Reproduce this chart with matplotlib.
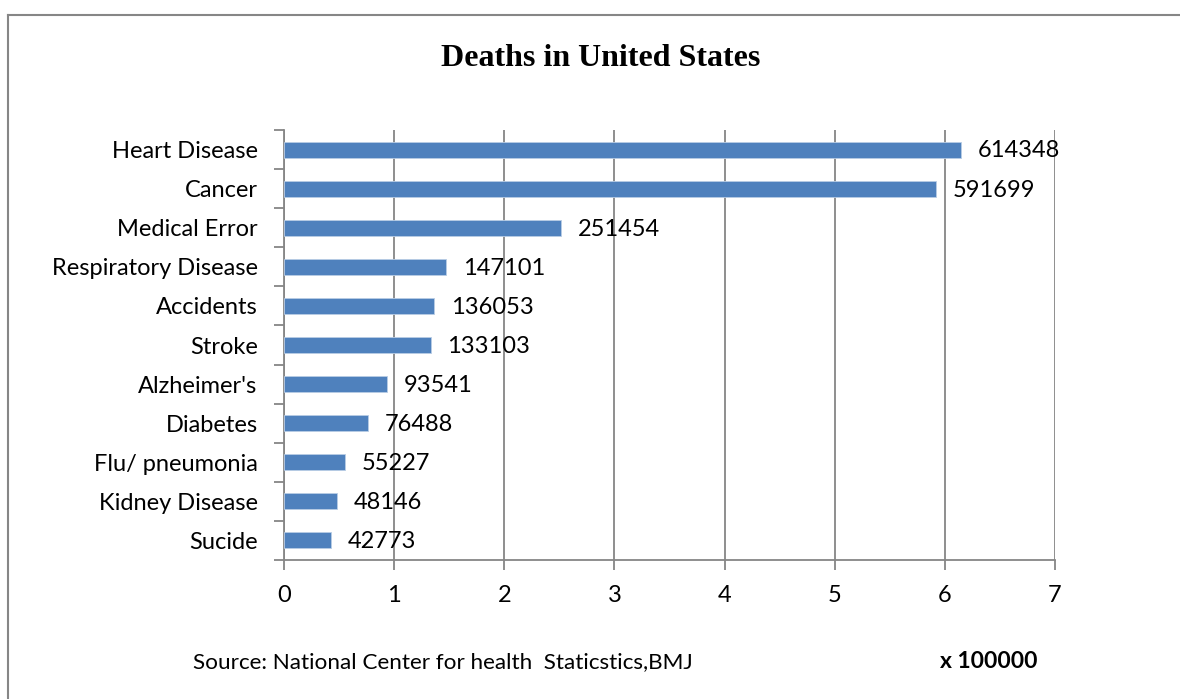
import numpy as np
import matplotlib.pyplot as plt

W, H = 1180, 699

causes = ["Heart Disease", "Cancer", "Medical Error", "Respiratory Disease",
          "Accidents", "Stroke", "Alzheimer's", "Diabetes", "Flu/ pneumonia",
          "Kidney Disease", "Sucide"]
deaths = [614348, 591699, 251454, 147101, 136053, 133103, 93541, 76488,
          55227, 48146, 42773]
scale = 100000
xticks = [0, 1, 2, 3, 4, 5, 6, 7]

plt.rcParams['font.family'] = ['Lato', 'DejaVu Sans']
grey = "#868686"

fig = plt.figure(figsize=(W / 100, H / 100), dpi=100)
ax = fig.add_axes([284 / W, 1 - 560 / H, (1055 - 284) / W, (560 - 130) / H])

y = np.arange(len(causes))
vals = np.array(deaths) / scale
ax.barh(y, vals, height=0.41, color="#4F81BD", edgecolor="#B9CDE5",
        linewidth=0.6, zorder=3)
ax.set_ylim(len(causes) - 0.5, -0.5)
ax.set_xlim(0, 7)
ax.set_xticks(xticks)
ax.set_xticklabels([str(t) for t in xticks], fontsize=17)
ax.set_yticks(y)
ax.set_yticklabels(causes, fontsize=17)
ax.set_yticks(np.arange(len(causes) + 1) - 0.5, minor=True)

ax.tick_params(axis='y', which='major', length=0, pad=19)
ax.tick_params(axis='y', which='minor', length=7, color=grey, width=1.3,
               direction='out')
ax.tick_params(axis='x', length=7, color=grey, width=1.3, pad=11)

ax.grid(axis='x', color=grey, linewidth=1.3, zorder=0)
for side in ['top', 'right']:
    ax.spines[side].set_visible(False)
for side in ['left', 'bottom']:
    ax.spines[side].set_color(grey)
    ax.spines[side].set_linewidth(1.3)

for yi, v, d in zip(y, vals, deaths):
    ax.annotate(str(d), xy=(v, yi), xytext=(12, -1), textcoords='offset points',
                ha='left', va='center', fontsize=17, zorder=4)

fig.text(601 / W, 1 - 58 / H, "Deaths in United States", ha='center',
         va='center', fontsize=23, fontweight='bold', family='Liberation Serif')
fig.text(193 / W, 1 - 662 / H, "Source: National Center for health  Staticstics,BMJ",
         ha='left', va='center', fontsize=16.2)
fig.text(940 / W, 1 - 662 / H, "x 100000", ha='left', va='center',
         fontsize=16.5, fontweight='bold')

# frame lines of the chart area
fig.add_artist(plt.Line2D([8 / W, 8 / W], [0, 1 - 15 / H], color=grey,
                          linewidth=1.5, transform=fig.transFigure))
fig.add_artist(plt.Line2D([8 / W, 1], [1 - 15 / H, 1 - 15 / H], color=grey,
                          linewidth=1.5, transform=fig.transFigure))

fig.savefig("out.png", dpi=100)
